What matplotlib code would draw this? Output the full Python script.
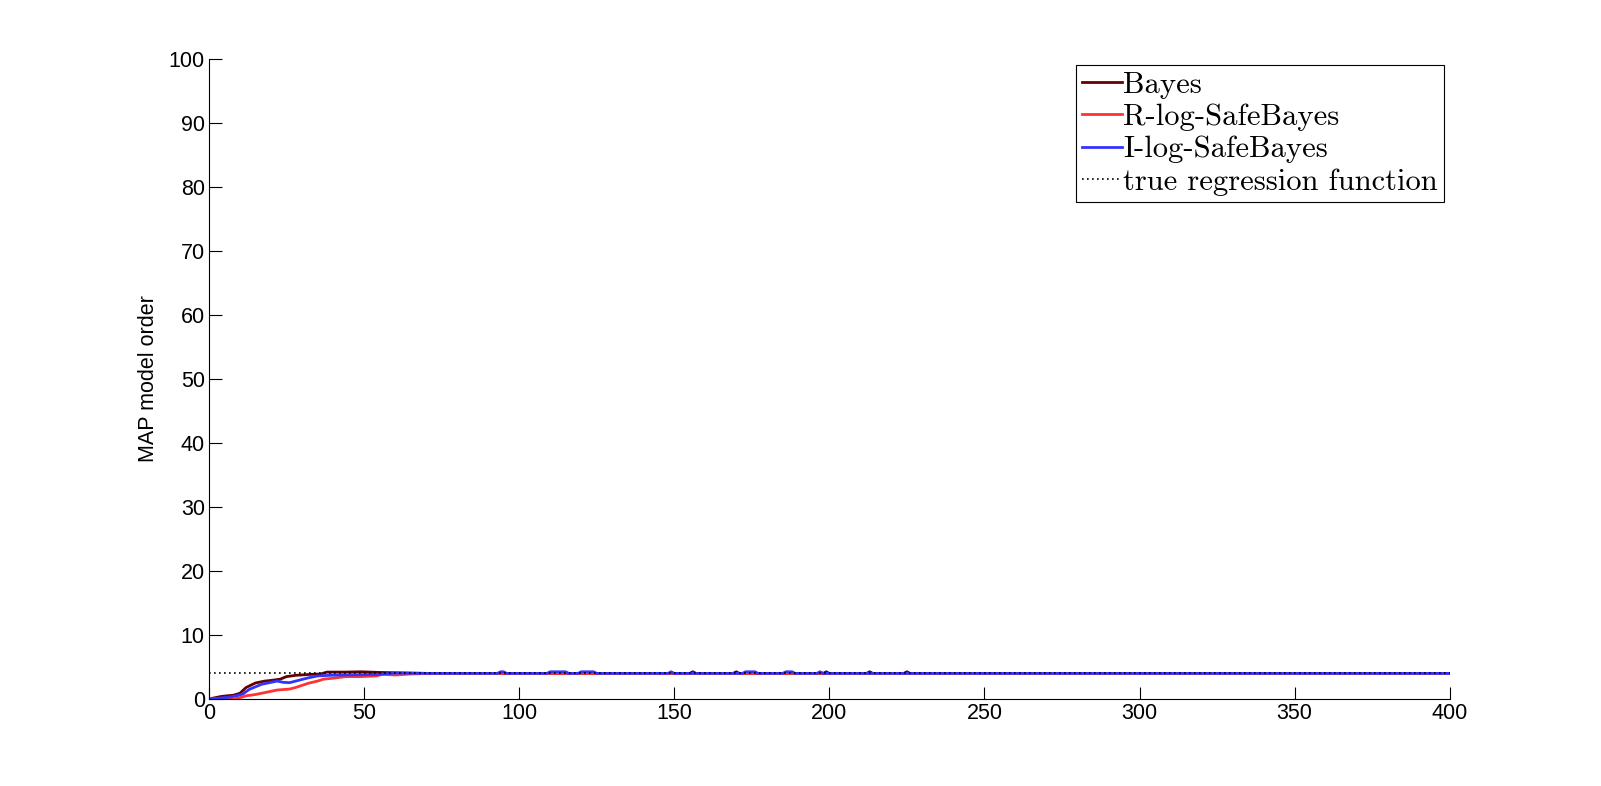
import matplotlib
matplotlib.use("Agg")
import matplotlib.pyplot as plt

# sample size n vs MAP model order (averaged over runs)
bayes_x = [0, 4, 8, 10, 12, 15, 18, 20, 23, 25, 28, 33, 36, 38, 44, 49, 55, 60, 70,
           155, 156, 157, 169, 170, 171, 198, 199, 200, 212, 213, 214, 224, 225, 226, 400]
bayes_y = [0, 0.4, 0.6, 0.9, 1.8, 2.5, 2.8, 2.9, 3.1, 3.5, 3.7, 3.85, 3.9, 4.2, 4.2, 4.25, 4.15, 4.1, 4.0,
           4.0, 4.25, 4.0, 4.0, 4.25, 4.0, 4.0, 4.25, 4.0, 4.0, 4.25, 4.0, 4.0, 4.25, 4.0, 4.0]

rlog_x = [0, 8, 10, 12, 15, 17, 20, 22, 26, 28, 32, 35, 37, 41, 44, 49, 54, 56, 60, 65, 71, 400]
rlog_y = [0, 0, 0.2, 0.5, 0.7, 0.9, 1.2, 1.4, 1.55, 1.8, 2.45, 2.8, 3.1, 3.3, 3.5, 3.5, 3.6, 3.85, 3.75, 3.9, 4.0, 4.0]

ilog_x = [0, 6, 9, 11, 13, 15, 17, 20, 22, 24, 26, 28, 32, 35, 39, 44, 50, 55, 60, 70,
          93, 94, 95, 96, 109, 110, 115, 116, 119, 120, 124, 125, 148, 149, 150,
          172, 173, 176, 177, 185, 186, 188, 189, 196, 197, 198, 400]
ilog_y = [0, 0.25, 0.5, 0.8, 1.5, 1.9, 2.3, 2.6, 2.8, 2.6, 2.55, 2.8, 3.3, 3.6, 3.7, 3.75, 3.8, 3.85, 4.05, 4.0,
          4.0, 4.25, 4.25, 4.0, 4.0, 4.25, 4.25, 4.0, 4.0, 4.25, 4.25, 4.0, 4.0, 4.25, 4.0,
          4.0, 4.25, 4.25, 4.0, 4.0, 4.25, 4.25, 4.0, 4.0, 4.25, 4.0, 4.0]

true_x = [0, 400]
true_y = [4, 4]

fig = plt.figure(figsize=(16.01, 7.86), dpi=100)
ax = fig.add_axes([0.1305, 0.1107, 0.775, 0.8143])

ax.plot(bayes_x, bayes_y, color="#660000", lw=2, label="Bayes")
ax.plot(rlog_x, rlog_y, color="#ff3333", lw=2, label="R-log-SafeBayes")
ax.plot(ilog_x, ilog_y, color="#3333ff", lw=2, label="I-log-SafeBayes")
ax.plot(true_x, true_y, color="black", lw=1.2, ls=(0, (1, 2)), label="true regression function")

ax.set_xlim(0, 400)
ax.set_ylim(0, 100)
ax.set_xticks(range(0, 401, 50))
ax.set_yticks(range(0, 101, 10))
for s in ["top", "right"]:
    ax.spines[s].set_visible(False)
ax.tick_params(direction="in", length=9, width=0.8, labelsize=15.5, pad=3)
for lab in ax.get_xticklabels() + ax.get_yticklabels():
    lab.set_fontfamily("Liberation Sans")
ax.set_ylabel("MAP model order", fontsize=15.5, fontfamily="Liberation Sans", labelpad=7)

leg = ax.legend(loc="upper right", bbox_to_anchor=(1444 / 1601, 1 - 65 / 786),
                bbox_transform=fig.transFigure, borderaxespad=0, fancybox=False,
                framealpha=1, edgecolor="black", handlelength=1.3, handletextpad=0.05,
                labelspacing=0.16, borderpad=0.2, prop={"family": "cmr10", "size": 22})
leg.get_frame().set_linewidth(0.8)

fig.savefig("out.png", dpi=100)
